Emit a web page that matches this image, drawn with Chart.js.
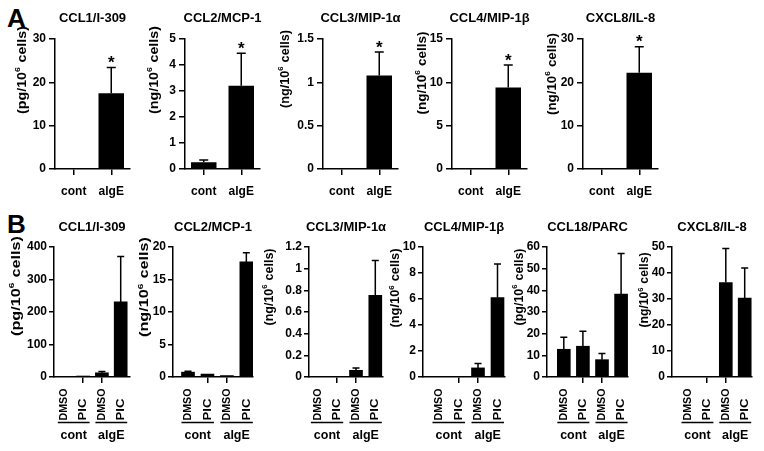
<!DOCTYPE html>
<html><head><meta charset="utf-8">
<script src="https://cdn.jsdelivr.net/npm/chart.js@4.4.0/dist/chart.umd.min.js"></script>
<style>
html,body{margin:0;padding:0;background:#fff;}
#fig{position:relative;width:764px;height:451px;overflow:hidden;background:#fff;font-family:"Liberation Sans",Arial,Helvetica,sans-serif;}
#fig canvas{position:absolute;}
.lab{position:absolute;font-weight:bold;font-size:26px;line-height:26px;color:#000;}
</style></head><body>
<div id="fig">
<div class="lab" style="left:7px;top:5px">A</div>
<div class="lab" style="left:7px;top:211px">B</div>
</div>
<script>
// ---------------- Panel A data ----------------
const A_titles = ['CCL1/I-309', 'CCL2/MCP-1', 'CCL3/MIP-1\u03B1', 'CCL4/MIP-1\u03B2', 'CXCL8/IL-8'];
const A_units = ['pg', 'ng', 'ng', 'ng', 'ng'];
const A_categories = ['cont', 'algE'];
const A_cont   = [0, 0.26, 0, 0, 0];
const A_contSD = [0, 0.09, 0, 0, 0];
const A_algE   = [17.5, 3.2, 1.08, 9.4, 22.2];
const A_algESD = [5.9, 1.25, 0.27, 2.6, 6.0];
const A_algESig = [true, true, true, true, true];
const A_yMax  = [30, 5, 1.5, 15, 30];
const A_yStep = [10, 1, 0.5, 5, 10];

// ---------------- Panel B data ----------------
const B_titles = ['CCL1/I-309', 'CCL2/MCP-1', 'CCL3/MIP-1\u03B1', 'CCL4/MIP-1\u03B2', 'CCL18/PARC', 'CXCL8/IL-8'];
const B_units = ['pg', 'ng', 'ng', 'ng', 'pg', 'ng'];
const B_groups = ['cont', 'algE'];
const B_treatments = ['DMSO', 'PIC', 'DMSO', 'PIC'];
const B_contDMSO   = [0, 0.75, 0, 0, 12.8, 0];
const B_contPIC    = [3, 0.45, 0, 0, 14.2, 0];
const B_algEDMSO   = [13, 0.22, 0.062, 0.7, 8.0, 36.3];
const B_algEPIC    = [231, 17.7, 0.755, 6.1, 38.3, 30.4];
const B_contDMSOSD = [0, 0.15, 0, 0, 5.5, 0];
const B_contPICSD  = [0, 0, 0, 0, 6.9, 0];
const B_algEDMSOSD = [4, 0, 0.021, 0.33, 2.8, 13.1];
const B_algEPICSD  = [140, 1.4, 0.32, 2.6, 18.7, 11.5];
const B_yMax  = [400, 20, 1.2, 10, 60, 50];
const B_yStep = [100, 5, 0.2, 2, 10, 10];

// ---------------- layout (positions / sizes) ----------------
const FAM = '"Liberation Sans", Arial, Helvetica, sans-serif';
const A_axisX = [55, 185, 323, 452, 583];
const A_yTitleOff = [33, 31, 38, 30, 31];
const A_yTitleMid = [70, 70, 69, 73, 74];
const A_yTitleLen = [88, 88, 78, 83, 82];
const B_axisX = [54, 173, 309, 423, 547, 672];
const B_areaW = [76, 80, 74, 82, 81, 80];
const B_first = [10.3, 15, 8.4, 16, 16.8, 16];
const B_spacing = [18.8, 19.45, 19.3, 19.5, 19.1, 18.9];
const B_yTitleOff = [38, 28.5, 40, 27.5, 28, 27.5];
const B_yTitleMid = [286, 287, 287, 288, 287, 290];
const B_yTitleLen = [100, 100, 77, 79, 77, 75];
const B_treatLen = { DMSO: 32, PIC: 22 };

function fmt(v){ return String(+(+v).toFixed(3)); }

function drawYTitle(ctx, unit, cx, cy, len) {
  const big = 'bold 13px ' + FAM, small = 'bold 8px ' + FAM;
  const p1 = '(' + unit + '/10', p2 = '6', p3 = ' cells)';
  ctx.font = big; const w1 = ctx.measureText(p1).width, w3 = ctx.measureText(p3).width;
  ctx.font = small; const w2 = ctx.measureText(p2).width + 0.5;
  const tot = w1 + w2 + w3, k = len / tot;
  ctx.save(); ctx.translate(cx, cy); ctx.rotate(-Math.PI / 2); ctx.scale(k, 1);
  ctx.textAlign = 'left'; ctx.textBaseline = 'middle';
  let x = -tot / 2;
  ctx.font = big; ctx.fillText(p1, x, 0); x += w1;
  ctx.font = small; ctx.fillText(p2, x, -4); x += w2;
  ctx.font = big; ctx.fillText(p3, x, 0);
  ctx.restore();
}

const decoPlugin = {
  id: 'deco',
  afterDraw(chart, args, o) {
    const ctx = chart.ctx, ca = chart.chartArea, ys = chart.scales.y, xs = chart.scales.x;
    const meta = chart.getDatasetMeta(0);
    const T = o.top;
    ctx.save();
    ctx.fillStyle = '#000'; ctx.strokeStyle = '#000';
    ctx.lineWidth = 1.5;
    o.values.forEach((v, i) => {
      const sd = o.sd[i];
      if (!sd) return;
      const el = meta.data[i];
      const yt = ys.getPixelForValue(v + sd);
      ctx.beginPath();
      ctx.moveTo(el.x, el.y); ctx.lineTo(el.x, yt);
      ctx.moveTo(el.x - o.cap / 2, yt); ctx.lineTo(el.x + o.cap / 2, yt);
      ctx.stroke();
      if (o.stars && o.stars[i]) {
        ctx.font = 'bold 17px ' + FAM; ctx.textAlign = 'center'; ctx.textBaseline = 'alphabetic';
        ctx.fillText('*', el.x, yt + 0.5);
      }
    });
    ctx.font = 'bold 13px ' + FAM; ctx.textAlign = 'center'; ctx.textBaseline = 'alphabetic';
    ctx.fillText(o.title, (ca.left + ca.right) / 2, o.titleBase - T);
    drawYTitle(ctx, o.unit, ca.left - o.yTitleOff, o.yTitleMid - T, o.yTitleLen);
    if (o.treat) {
      ctx.font = 'bold 11.5px ' + FAM;
      ctx.textAlign = 'left'; ctx.textBaseline = 'middle';
      o.treat.forEach((t, i) => {
        const x = xs.getPixelForValue(i);
        const k = (B_treatLen[t] || ctx.measureText(t).width) / ctx.measureText(t).width;
        ctx.save(); ctx.translate(x, o.treatBase - T); ctx.rotate(-Math.PI / 2); ctx.scale(k, 1); ctx.fillText(t, 0, 0); ctx.restore();
      });
      o.groups.forEach((g, gi) => {
        const x0 = xs.getPixelForValue(gi * 2) - o.groupPad, x1 = xs.getPixelForValue(gi * 2 + 1) + o.groupPad;
        ctx.lineWidth = 1.5; ctx.beginPath(); ctx.moveTo(x0, o.lineY - T); ctx.lineTo(x1, o.lineY - T); ctx.stroke();
        ctx.font = 'bold 12.5px ' + FAM; ctx.textAlign = 'center'; ctx.textBaseline = 'alphabetic';
        ctx.fillText(g, (x0 + x1) / 2, o.groupBase - T);
      });
    }
    ctx.restore();
  }
};

const axisGrid = (len) => ({ display: true, drawOnChartArea: false, drawTicks: true, tickLength: len, offset: false, color: '#000', lineWidth: 1.5 });
const axisBorder = { display: true, color: '#000', width: 1.5 };
const tickFont = { family: FAM, size: 12, weight: 'bold' };

function makeChart(c) {
  const cv = document.createElement('canvas');
  cv.width = c.w; cv.height = c.h;
  cv.style.left = c.left + 'px'; cv.style.top = c.top + 'px';
  cv.style.width = c.w + 'px'; cv.style.height = c.h + 'px';
  document.getElementById('fig').appendChild(cv);
  const ds = { data: c.data, backgroundColor: '#000', borderWidth: 0, categoryPercentage: 1, barPercentage: c.barPct || 0.9 };
  if (c.barThickness) ds.barThickness = c.barThickness;
  new Chart(cv, {
    type: 'bar',
    data: { labels: c.labels, datasets: [ds] },
    options: {
      responsive: false, animation: false, devicePixelRatio: 1,
      layout: { padding: { top: c.padTop, right: c.padRight, left: 0, bottom: 0 } },
      plugins: { legend: { display: false }, tooltip: { enabled: false }, deco: c.deco },
      scales: {
        x: c.xScale,
        y: {
          min: 0, max: c.yMax,
          ticks: { stepSize: c.yStep, color: '#000', font: tickFont, padding: c.yPad, callback: v => fmt(v) },
          grid: axisGrid(c.yTick), border: axisBorder,
          afterFit: s => { s.width = c.axisW; }
        }
      }
    },
    plugins: [decoPlugin]
  });
}

// Panel A charts
for (let i = 0; i < 5; i++) {
  const axisW = 45, areaW = 75, padR = 8;
  makeChart({
    left: A_axisX[i] - axisW, top: 0, w: axisW + areaW + padR, h: 200,
    axisW, padTop: 39, padRight: padR, yTick: 6, yPad: 3,
    labels: A_categories, data: [A_cont[i], A_algE[i]], barPct: 0.68,
    yMax: A_yMax[i], yStep: A_yStep[i],
    xScale: {
      type: 'category', offset: true, grid: axisGrid(6), border: axisBorder,
      ticks: { color: '#000', font: tickFont, padding: 9, maxRotation: 0, autoSkip: false },
      afterFit: s => { s.height = 31; }
    },
    deco: {
      top: 0, values: [A_cont[i], A_algE[i]], sd: [A_contSD[i], A_algESD[i]], stars: [false, A_algESig[i]], cap: 9,
      title: A_titles[i], titleBase: 22, unit: A_units[i],
      yTitleOff: A_yTitleOff[i], yTitleMid: A_yTitleMid[i], yTitleLen: A_yTitleLen[i]
    }
  });
}

// Panel B charts
for (let i = 0; i < 6; i++) {
  const axisW = 52, padR = 8, areaW = B_areaW[i], s = B_spacing[i];
  const vals = [B_contDMSO[i], B_contPIC[i], B_algEDMSO[i], B_algEPIC[i]];
  const sds = [B_contDMSOSD[i], B_contPICSD[i], B_algEDMSOSD[i], B_algEPICSD[i]];
  makeChart({
    left: B_axisX[i] - axisW, top: 200, w: axisW + areaW + padR, h: 251,
    axisW, padTop: 47, padRight: padR, yTick: 5, yPad: 2,
    labels: B_treatments, data: vals.map((v, k) => ({ x: k, y: v })), barThickness: 13,
    yMax: B_yMax[i], yStep: B_yStep[i],
    xScale: {
      type: 'linear', offset: false, min: -B_first[i] / s, max: (areaW - B_first[i]) / s,
      grid: axisGrid(6), border: axisBorder,
      ticks: { display: false, stepSize: 1 },
      afterBuildTicks: sc => { sc.ticks = sc.ticks.filter(t => Number.isInteger(t.value) && t.value >= 0 && t.value <= 3); },
      afterFit: sc => { sc.height = 74; }
    },
    deco: {
      top: 200, values: vals, sd: sds, cap: 7,
      title: B_titles[i], titleBase: 231, unit: B_units[i],
      yTitleOff: B_yTitleOff[i], yTitleMid: B_yTitleMid[i], yTitleLen: B_yTitleLen[i],
      treat: B_treatments, groups: B_groups, treatBase: 420.5, lineY: 422.5, groupPad: 6.5, groupBase: 439
    }
  });
}
</script>
</body></html>
